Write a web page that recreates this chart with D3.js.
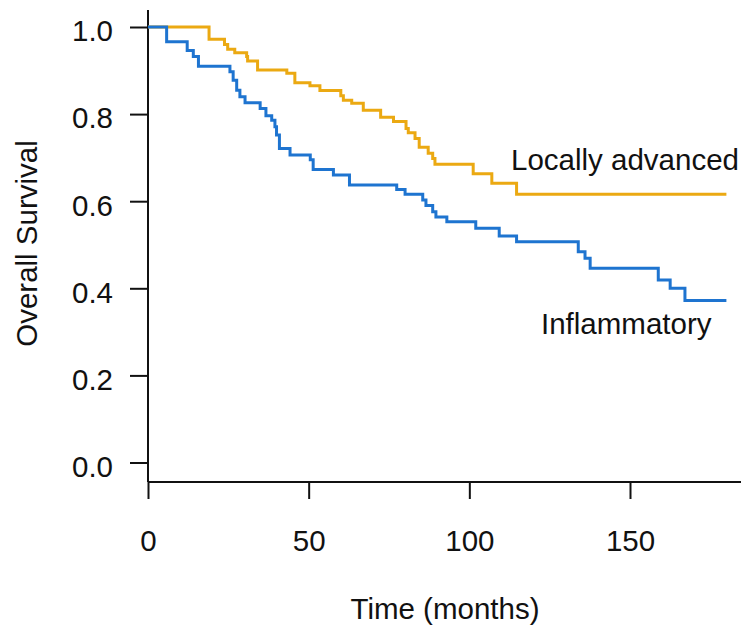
<!DOCTYPE html>
<html>
<head>
<meta charset="utf-8">
<script src="https://cdn.jsdelivr.net/npm/d3@7"></script>
<style>
  body { margin: 0; background: #fff; }
  svg text { font-family: "Liberation Sans", Arial, sans-serif; fill: #111; }
</style>
</head>
<body>
<div id="chart"></div>
<script>
// Kaplan-Meier step values (months, survival)
const inflamTimes = [0, 5.8, 12.2, 14.1, 15.7, 25.5, 26.5, 27.6, 28.6, 30.2, 34.9, 36.7, 38.5, 39.5, 40, 40.9, 44.2, 50.5, 51.4, 57.7, 62.7, 77.4, 80, 85.5, 86.5, 88.6, 89.6, 93, 102, 109.3, 114.7, 133.9, 136, 137.6, 158.8, 162.5, 167.1, 180];
const inflamSurv = [1, 0.966, 0.946, 0.932, 0.910, 0.897, 0.878, 0.855, 0.840, 0.826, 0.813, 0.796, 0.786, 0.771, 0.752, 0.721, 0.706, 0.695, 0.673, 0.660, 0.637, 0.627, 0.616, 0.603, 0.590, 0.576, 0.564, 0.553, 0.538, 0.520, 0.507, 0.484, 0.469, 0.446, 0.419, 0.400, 0.372, 0.372];

const localTimes = [0, 19, 23.8, 24.8, 27, 30.7, 31, 34.1, 43.2, 45.7, 50.4, 53.5, 60, 60.8, 63.4, 67, 72.4, 76.4, 80.3, 81, 83.1, 84.4, 87.2, 88.6, 89.3, 101.2, 107, 114.7, 180];
const localSurv = [1, 0.972, 0.960, 0.949, 0.941, 0.932, 0.922, 0.901, 0.894, 0.872, 0.865, 0.854, 0.842, 0.832, 0.825, 0.809, 0.793, 0.783, 0.767, 0.757, 0.744, 0.724, 0.710, 0.698, 0.685, 0.663, 0.641, 0.616, 0.616];

const xTicks = [0, 50, 100, 150];
const yTicks = [0, 0.2, 0.4, 0.6, 0.8, 1.0];

const seriesNames = ['Locally advanced', 'Inflammatory'];
const seriesColors = ['#EBA912', '#1E74D0'];

function draw() {
  const width = 741;
  const height = 632;
  const fontSize = '29.5px';

  const svg = d3.select('#chart')
    .append('svg')
    .attr('width', width)
    .attr('height', height);

  const x = d3.scaleLinear()
    .domain([0, 150])
    .range([148, 630]);

  const y = d3.scaleLinear()
    .domain([0, 1])
    .range([462.5, 27]);

  const axisY = 482;

  // y axis
  const gy = svg.append('g')
    .attr('transform', 'translate(148,0)')
    .call(d3.axisLeft(y).tickValues(yTicks).tickFormat(d3.format('.1f')).tickSize(18).tickPadding(17).tickSizeOuter(0));
  gy.select('.domain').remove();
  gy.append('line')
    .attr('x1', 0).attr('x2', 0)
    .attr('y1', 10).attr('y2', axisY)
    .attr('stroke', '#111').attr('stroke-width', 2);
  gy.selectAll('.tick line').attr('stroke', '#111').attr('stroke-width', 2);
  gy.selectAll('.tick text')
    .attr('fill', '#111')
    .attr('dy', '0.47em')
    .style('font-size', fontSize);

  // x axis
  const gx = svg.append('g')
    .attr('transform', `translate(0,${axisY})`)
    .call(d3.axisBottom(x).tickValues(xTicks).tickSize(17).tickPadding(31).tickSizeOuter(0));
  gx.select('.domain').remove();
  gx.append('line')
    .attr('x1', 148).attr('x2', 741)
    .attr('y1', 0).attr('y2', 0)
    .attr('stroke', '#111').attr('stroke-width', 2);
  gx.selectAll('.tick line').attr('stroke', '#111').attr('stroke-width', 2);
  gx.selectAll('.tick text')
    .attr('fill', '#111')
    .style('font-size', fontSize);

  // axis titles
  svg.append('text')
    .attr('x', 445)
    .attr('y', 619)
    .attr('text-anchor', 'middle')
    .style('font-size', fontSize)
    .text('Time (months)');

  svg.append('text')
    .attr('transform', 'translate(37,243.5) rotate(-90)')
    .attr('text-anchor', 'middle')
    .style('font-size', fontSize)
    .text('Overall Survival');

  // survival curves
  const line = d3.line()
    .x(d => x(d[0]))
    .y(d => y(d[1]))
    .curve(d3.curveStepAfter);

  const series = [
    d3.zip(localTimes, localSurv),
    d3.zip(inflamTimes, inflamSurv)
  ];

  svg.append('g')
    .selectAll('path')
    .data(series)
    .join('path')
    .attr('fill', 'none')
    .attr('stroke', (d, i) => seriesColors[i])
    .attr('stroke-width', 3)
    .attr('d', line);

  // curve labels
  svg.append('text')
    .attr('x', 511)
    .attr('y', 170)
    .style('font-size', fontSize)
    .text(seriesNames[0]);

  svg.append('text')
    .attr('x', 541)
    .attr('y', 334)
    .style('font-size', fontSize)
    .text(seriesNames[1]);
}

draw();
</script>
</body>
</html>
